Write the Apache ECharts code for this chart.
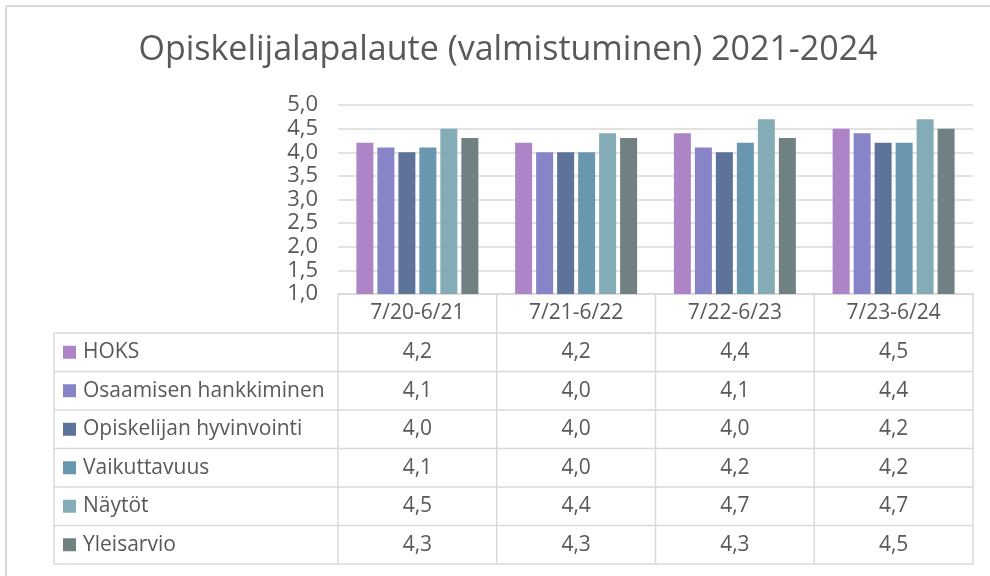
<!DOCTYPE html>
<html>
<head>
<meta charset="utf-8">
<script src="https://cdn.jsdelivr.net/npm/echarts@6/dist/echarts.min.js"></script>
<style>
html,body{margin:0;padding:0;background:#fff;}
#c{width:990px;height:576px;}
</style>
</head>
<body>
<div id="c"></div>
<script>
// ---- data ----
const categories = ['7/20-6/21', '7/21-6/22', '7/22-6/23', '7/23-6/24'];
const seriesNames = ['HOKS', 'Osaamisen hankkiminen', 'Opiskelijan hyvinvointi', 'Vaikuttavuus', 'Näytöt', 'Yleisarvio'];
const hoks = [4.2, 4.2, 4.4, 4.5];
const osaamisen = [4.1, 4.0, 4.1, 4.4];
const hyvinvointi = [4.0, 4.0, 4.0, 4.2];
const vaikuttavuus = [4.1, 4.0, 4.2, 4.2];
const naytot = [4.5, 4.4, 4.7, 4.7];
const yleisarvio = [4.3, 4.3, 4.3, 4.5];
const seriesValues = [hoks, osaamisen, hyvinvointi, vaikuttavuus, naytot, yleisarvio];
const colors = ['#ad84c6', '#8784c7', '#5d739a', '#6997af', '#84acb6', '#6f8183'];
const yMin = 1, yMax = 5, yStep = 0.5;

// ---- layout ----
const W = 990, H = 576;
const gridLeft = 338, gridRight = 17, gridTop = 105, gridBottom = 282;
const plotRight = W - gridRight;
const axisY = H - gridBottom;
const headerBottom = 333;
const rowH = 38.5;
const tableLeft = 54;
const lineColor = '#d9d9d9';
const textColor = '#595959';
const fontFam = '"Open Sans", "Noto Sans", sans-serif';
const tableFont = 21;

const fmt = v => v.toFixed(1).replace('.', ',');

const chart = echarts.init(document.getElementById('c'), null, {renderer: 'canvas'});

const series = seriesNames.map((name, i) => ({
  name: name,
  type: 'bar',
  data: seriesValues[i],
  barWidth: 17,
  barGap: '23.5%',
  itemStyle: {color: colors[i]},
  emphasis: {disabled: true},
  animation: false
}));

// graphic elements: frame + table
const g = [];
g.push({type: 'line', shape: {x1: 6, y1: 6, x2: W, y2: 6}, style: {stroke: lineColor, lineWidth: 2}, silent: true});
g.push({type: 'line', shape: {x1: 6, y1: 6, x2: 6, y2: H}, style: {stroke: lineColor, lineWidth: 2}, silent: true});

const colW = (plotRight - gridLeft) / categories.length;
const tableBottom = headerBottom + rowH * seriesNames.length;
for (let r = 0; r <= seriesNames.length; r++) {
  const y = headerBottom + r * rowH;
  g.push({type: 'line', shape: {x1: tableLeft, y1: y, x2: plotRight, y2: y}, style: {stroke: lineColor, lineWidth: 1.5}, silent: true});
}
g.push({type: 'line', shape: {x1: tableLeft, y1: headerBottom, x2: tableLeft, y2: tableBottom}, style: {stroke: lineColor, lineWidth: 1.5}, silent: true});
for (let c = 0; c <= categories.length; c++) {
  const x = gridLeft + c * colW;
  g.push({type: 'line', shape: {x1: x, y1: axisY, x2: x, y2: tableBottom}, style: {stroke: lineColor, lineWidth: 1.5}, silent: true});
}
seriesNames.forEach((name, r) => {
  const cy = headerBottom + r * rowH + rowH / 2;
  g.push({type: 'rect', shape: {x: 63, y: cy - 6.5, width: 13, height: 13}, style: {fill: colors[r]}, silent: true});
  g.push({type: 'text', x: 83, y: cy, style: {text: name, fill: textColor, font: tableFont + 'px ' + fontFam, textVerticalAlign: 'middle', textAlign: 'left'}, silent: true});
  seriesValues[r].forEach((v, c) => {
    const cx = gridLeft + c * colW + colW / 2;
    g.push({type: 'text', x: cx, y: cy, style: {text: fmt(v), fill: textColor, font: tableFont + 'px ' + fontFam, textVerticalAlign: 'middle', textAlign: 'center'}, silent: true});
  });
});

chart.setOption({
  animation: false,
  title: {
    text: 'Opiskelijalapalaute (valmistuminen) 2021-2024',
    left: 503, top: 28, textAlign: 'center',
    textStyle: {color: textColor, fontSize: 34, fontWeight: 'normal', fontFamily: fontFam}
  },
  grid: {left: gridLeft, right: gridRight, top: gridTop, bottom: gridBottom, containLabel: false},
  xAxis: {
    type: 'category',
    data: categories,
    axisLine: {show: true, lineStyle: {color: lineColor, width: 1.5}},
    axisTick: {show: false},
    axisLabel: {color: textColor, fontSize: tableFont, fontFamily: fontFam, margin: 8, lineHeight: 22}
  },
  yAxis: {
    type: 'value', min: yMin, max: yMax, interval: yStep,
    axisLine: {show: false}, axisTick: {show: false},
    axisLabel: {color: textColor, fontSize: 22, fontFamily: fontFam, margin: 20, formatter: v => fmt(v)},
    splitLine: {lineStyle: {color: lineColor, width: 1.5}}
  },
  series: series,
  graphic: g
});
</script>
</body>
</html>
